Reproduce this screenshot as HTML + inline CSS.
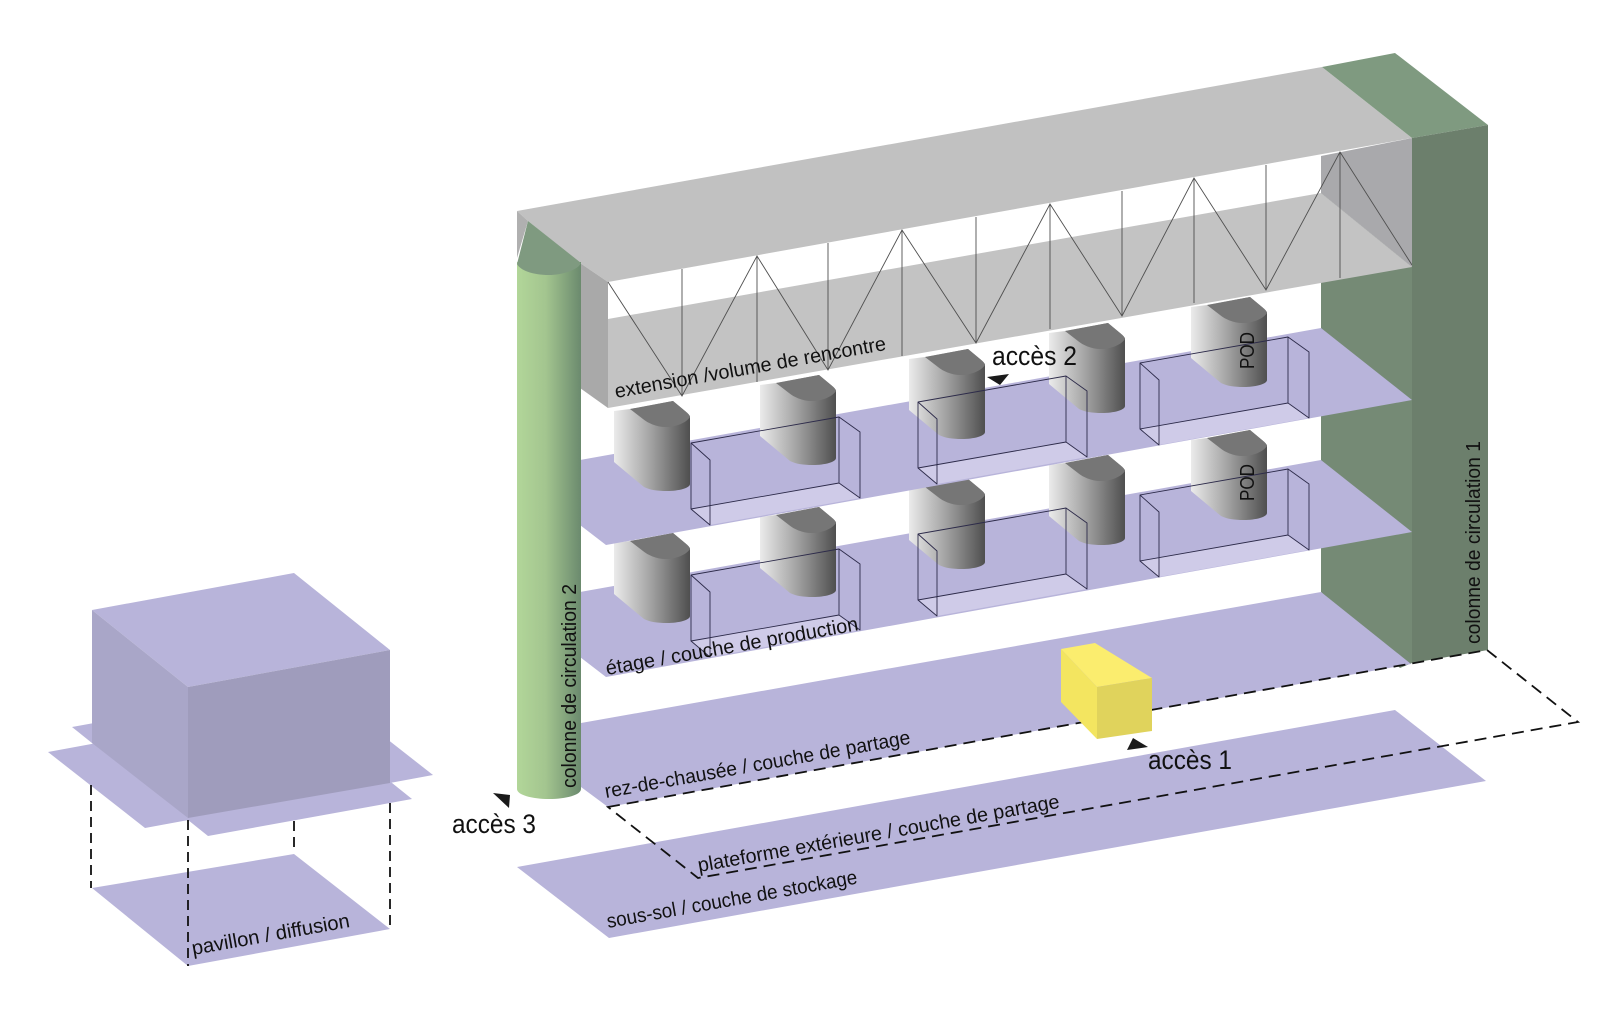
<!DOCTYPE html>
<html>
<head>
<meta charset="utf-8">
<style>
html,body{margin:0;padding:0;background:#fff;width:1600px;height:1035px;overflow:hidden}
svg{display:block}
text{font-family:"Liberation Sans",sans-serif;fill:#111}
</style>
</head>
<body>
<svg width="1600" height="1035" viewBox="0 0 1600 1035" xmlns="http://www.w3.org/2000/svg">
<defs>
<linearGradient id="podg" x1="0" y1="0" x2="1" y2="0">
<stop offset="0" stop-color="#ebebeb"/><stop offset=".5" stop-color="#a0a0a0"/><stop offset="1" stop-color="#4f4f4f"/>
</linearGradient>
<linearGradient id="cyl" x1="0" y1="0" x2="1" y2="0">
<stop offset="0" stop-color="#b2d699"/><stop offset=".45" stop-color="#a3c58f"/><stop offset="1" stop-color="#6b8a6e"/>
</linearGradient>
<g id="pod">
<path d="M0,10 L16,8 L59,0 L71,10 Q76,14 76,16 L76,83 C76,87 65,90 53,90 C43,90 36,89 30,86 L0,61 Z" fill="url(#podg)"/>
<path d="M16,8 L59,0 L71,10 Q76,14 76,16 C72,22 62,26 52,26 C42,26 34,22 29,18 Z" fill="#767676"/>
</g>
<g id="box">
<polygon points="0,66 148,40 169,55 19,82" fill="#cfcbe8"/>
<path d="M0,0 L148,-26 L169,-11 L169,55 L148,40 L148,-26 M0,0 L19,17 L19,82 L0,66 Z M0,66 L148,40" fill="none" stroke="#2d2b4a" stroke-width=".9" stroke-linejoin="round"/>
</g>
</defs>

<!-- pavilion -->
<polygon points="92,888 294,854 390,929 188,966" fill="#b8b4da"/>
<polygon points="72,727 276,690 412,799 208,836" fill="#b8b4da"/>
<polygon points="48,752 336,699 433,775 145,828" fill="#b8b4da"/>
<polygon points="92,610 294,573 390,650 188,687" fill="#b8b4da"/>
<polygon points="92,610 188,687 188,818 92,743" fill="#a9a6c8"/>
<polygon points="188,687 390,650 390,783 188,818" fill="#9f9cbc"/>
<g stroke="#111" stroke-width="1.8" stroke-dasharray="10,6" fill="none">
<line x1="91" y1="785" x2="91" y2="888"/>
<line x1="188" y1="820" x2="188" y2="966"/>
<line x1="294" y1="821" x2="294" y2="853"/>
<line x1="390" y1="803" x2="390" y2="929"/>
</g>
<text transform="translate(193,955) rotate(-10.1)" font-size="20" textLength="160" lengthAdjust="spacingAndGlyphs">pavillon / diffusion</text>

<!-- column 1 side wall -->
<polygon points="1321,193 1412,267 1412,663 1400,668 1321,592" fill="#758a75"/>

<!-- ground and basement -->
<polygon points="517,867 1395,710 1486,781 609,938" fill="#b8b4da"/>
<polygon points="581,723 1321,592 1411,664 608,807 581,787" fill="#b8b4da"/>

<!-- level 2 -->
<polygon points="580,592 1321,460 1412,532 606,677 580,657" fill="#b8b4da"/>
<use href="#pod" x="614" y="533"/>
<use href="#pod" x="760" y="507"/>
<use href="#pod" x="909" y="479"/>
<use href="#pod" x="1049" y="455"/>
<use href="#pod" x="1191" y="430"/>
<use href="#box" x="691" y="575"/>
<use href="#box" x="918" y="534"/>
<use href="#box" x="1140" y="495"/>

<!-- level 1 -->
<polygon points="580,460 1321,328 1412,400 606,545 580,525" fill="#b8b4da"/>
<use href="#pod" x="614" y="401"/>
<use href="#pod" x="760" y="375"/>
<use href="#pod" x="909" y="349"/>
<use href="#pod" x="1049" y="323"/>
<use href="#pod" x="1191" y="297"/>
<use href="#box" x="691" y="443"/>
<use href="#box" x="918" y="402"/>
<use href="#box" x="1140" y="363"/>

<!-- extension -->
<polygon points="608,319 1321,193 1412,267 608,408" fill="#c3c3c3"/>
<polygon points="1321,156 1412,138 1412,267 1321,193" fill="#a9a9ac"/>
<polygon points="517,211 1322,67 1412,138 608,282 580,263 528,221" fill="#c1c1c1"/>
<polygon points="580,263 608,282 608,408 580,388" fill="#a9a9a9"/>

<!-- truss -->
<g stroke="#4f4f4f" stroke-width=".9" fill="none">
<polyline points="608,282 682,396 757,256 828,370 902,230 976,343 1050,204 1122,316 1194,178 1266,290 1340,152 1412,265"/>
<path d="M682,269V396 M757,256V382 M828,243V370 M902,230V356 M976,217V343 M1050,204V329 M1122,191V316 M1194,178V303 M1266,165V290 M1340,152V278"/>
</g>

<!-- column 1 front -->
<polygon points="1322,67 1395,53 1488,125 1412,138" fill="#7f9a80"/>
<polygon points="1412,138 1488,125 1488,650 1412,663" fill="#6c7f6c"/>

<!-- column 2 -->
<path d="M517,262 V789 C517,795 532,799 549,799 C566,799 581,795 581,789 V262 Z" fill="url(#cyl)"/>
<polygon points="517,211 528,221 517,258" fill="#b0b0b0"/>
<path d="M528,221 L581,263 C578,270 562,275 549,275 C532,275 520,270 517,264 Z" fill="#7f9a80"/>

<!-- dashed footprint -->
<polygon points="608,807 1487,650 1578,722 698,878" fill="none" stroke="#111" stroke-width="1.8" stroke-dasharray="12,7"/>

<!-- yellow box -->
<polygon points="1061,649 1095,643 1152,678 1097,687" fill="#fbed6e"/>
<polygon points="1061,649 1097,687 1097,739 1061,702" fill="#f3e560"/>
<polygon points="1097,687 1152,678 1152,731 1097,739" fill="#e0d35c"/>

<!-- access markers -->
<polygon points="987,377 1009,374 1000,385" fill="#1a1a1a"/>
<polygon points="1127,750 1148,747 1133,738" fill="#1a1a1a"/>
<polygon points="493,793 510,795 509,808" fill="#1a1a1a"/>

<!-- labels -->
<text transform="translate(616,398) rotate(-10.1)" font-size="20" textLength="275" lengthAdjust="spacingAndGlyphs">extension /volume de rencontre</text>
<text transform="translate(607,675) rotate(-10.1)" font-size="20" textLength="256" lengthAdjust="spacingAndGlyphs">étage / couche de production</text>
<text transform="translate(606,798) rotate(-10.1)" font-size="20" textLength="310" lengthAdjust="spacingAndGlyphs">rez-de-chausée / couche de partage</text>
<text transform="translate(699,872) rotate(-10.1)" font-size="20" textLength="367" lengthAdjust="spacingAndGlyphs">plateforme extérieure / couche de partage</text>
<text transform="translate(608,928) rotate(-10.1)" font-size="20" textLength="254" lengthAdjust="spacingAndGlyphs">sous-sol / couche de stockage</text>
<text transform="translate(576,788) rotate(-90)" font-size="20" textLength="204" lengthAdjust="spacingAndGlyphs">colonne de circulation 2</text>
<text transform="translate(1480,644) rotate(-90)" font-size="20" textLength="203" lengthAdjust="spacingAndGlyphs">colonne de circulation 1</text>
<text transform="translate(1254,369) rotate(-90)" font-size="20" textLength="37" lengthAdjust="spacingAndGlyphs">POD</text>
<text transform="translate(1254,501) rotate(-90)" font-size="20" textLength="37" lengthAdjust="spacingAndGlyphs">POD</text>
<text x="992" y="365" font-size="27" textLength="85" lengthAdjust="spacingAndGlyphs">accès 2</text>
<text x="1148" y="769" font-size="27" textLength="84" lengthAdjust="spacingAndGlyphs">accès 1</text>
<text x="452" y="833" font-size="27" textLength="84" lengthAdjust="spacingAndGlyphs">accès 3</text>
</svg>
</body>
</html>
